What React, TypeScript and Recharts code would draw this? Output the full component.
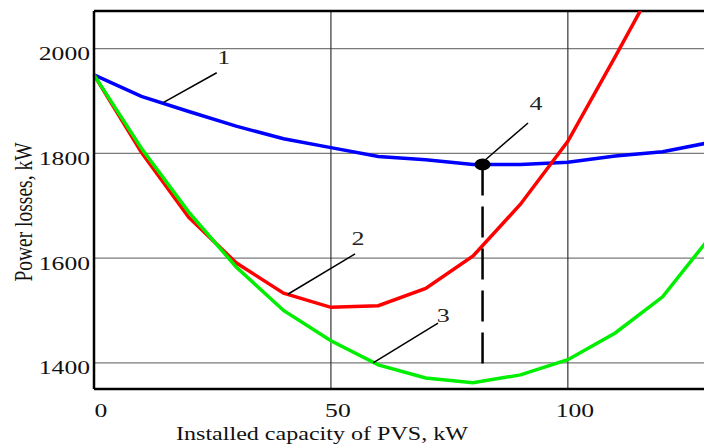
import { LineChart, Line, XAxis, YAxis, CartesianGrid, ReferenceLine, ReferenceDot } from 'recharts';

// installed capacity of PVS, kW
const capacity = [0, 10, 20, 30, 40, 50, 60, 70, 80, 90, 100, 110, 120, 130];
// curve 1
const lossesOne = [1950, 1909, 1880, 1852, 1828, 1811, 1794, 1788, 1779, 1779, 1783, 1795, 1803, 1821];
// curve 2
const lossesTwo = [1950, 1802, 1678, 1591, 1533, 1506, 1509, 1542, 1604, 1703, 1823, 1985, 2150, 2330];
// curve 3
const lossesThree = [1950, 1810, 1688, 1583, 1500, 1442, 1396, 1371, 1362, 1377, 1406, 1457, 1526, 1640];

const xTicks = [0, 50, 100];
const yTicks = [1400, 1600, 1800, 2000];
const xDomain = [0, 130];
const yDomain = [1350, 2072];

// point 4 (optimum) and the dashed drop line
const optimum = { x: 82, y: 1779 };
const dropEnd = 1383;

// curve number labels with their leader lines
const labels = [
  { text: '1', x: 27.4, y: 1971, from: { x: 25.9, y: 1954 }, to: { x: 14.6, y: 1897 } },
  { text: '2', x: 55.7, y: 1625, from: { x: 55.1, y: 1608 }, to: { x: 40.9, y: 1531 } },
  { text: '3', x: 73.7, y: 1478, from: { x: 72.6, y: 1476 }, to: { x: 58.9, y: 1400 } },
  { text: '4', x: 93.3, y: 1883, from: { x: 91.6, y: 1858 }, to: { x: 82.5, y: 1787 } },
];

const data = capacity.map((c, i) => ({
  c,
  one: lossesOne[i],
  two: lossesTwo[i],
  three: lossesThree[i],
}));

const font = '"Liberation Serif", "Times New Roman", serif';
const charW = 12.8;

const YTick = (props: any) => {
  const { x, y, payload } = props;
  const s = String(payload.value);
  return (
    <text x={x} y={y + 11.5} textAnchor="end" fontFamily={font} fontSize={19} fill="#111"
      textLength={s.length * charW} lengthAdjust="spacingAndGlyphs">
      {s}
    </text>
  );
};

const XTick = (props: any) => {
  const { x, y, payload } = props;
  const s = String(payload.value);
  return (
    <text x={x + 7} y={y + 24} textAnchor="middle" fontFamily={font} fontSize={19} fill="#111"
      textLength={s.length * charW} lengthAdjust="spacingAndGlyphs">
      {s}
    </text>
  );
};

const XTitle = (props: any) => {
  const { viewBox } = props;
  return (
    <text x={viewBox.x + 82} y={viewBox.y + 51} fontFamily={font} fontSize={19.5} fill="#111"
      textLength={292} lengthAdjust="spacingAndGlyphs">
      Installed capacity of PVS, kW
    </text>
  );
};

const YTitle = (props: any) => {
  const { viewBox } = props;
  const cy = viewBox.y + viewBox.height / 2 + 12;
  return (
    <text transform={`translate(31.5, ${cy}) scale(1.33, 1) rotate(-90)`} textAnchor="middle"
      fontFamily={font} fontSize={19.5} fill="#111">
      Power losses, kW
    </text>
  );
};

const NumberLabel = (text: string) => (props: any) => (
  <text x={props.cx} y={props.cy} textAnchor="middle" fontFamily={font} fontSize={19} fill="#222"
    textLength={13} lengthAdjust="spacingAndGlyphs">
    {text}
  </text>
);

const OptimumDot = (props: any) => <ellipse cx={props.cx} cy={props.cy} rx={8} ry={6} fill="#000" />;

export default function App() {
  return (
    <div style={{ position: 'fixed', left: 0, top: 0, width: 704, height: 445, overflow: 'hidden', background: '#fff' }}>
      <LineChart width={712} height={445} data={data} margin={{ top: 11, right: 2, left: 0, bottom: 0 }}>
        <CartesianGrid vertical={false} stroke="#7a7a7a" strokeWidth={1.2} />
        {xTicks.slice(1).map((t) => (
          <ReferenceLine key={'v' + t} x={t} stroke="#333" strokeWidth={1.2} />
        ))}
        <XAxis dataKey="c" type="number" domain={xDomain} ticks={xTicks} height={56}
          axisLine={{ stroke: '#000', strokeWidth: 2.5 }} tickLine={false} tickSize={4} tickMargin={0}
          tick={<XTick />} label={<XTitle />} />
        <YAxis type="number" domain={yDomain} ticks={yTicks} width={94} allowDataOverflow
          axisLine={{ stroke: '#000', strokeWidth: 2.5 }} tickLine={false} tickSize={4} tickMargin={0}
          tick={<YTick />} label={<YTitle />} />
        <ReferenceLine y={yDomain[1]} stroke="#000" strokeWidth={2.5} />
        <Line dataKey="one" stroke="#0000ff" strokeWidth={3.5} dot={false} isAnimationActive={false} />
        <Line dataKey="two" stroke="#ff0000" strokeWidth={3.5} dot={false} isAnimationActive={false} />
        <Line dataKey="three" stroke="#00ee00" strokeWidth={3.5} dot={false} isAnimationActive={false} />
        <ReferenceLine segment={[{ x: optimum.x, y: optimum.y }, { x: optimum.x, y: dropEnd }]}
          stroke="#000" strokeWidth={2.5} strokeDasharray="31 11" />
        {labels.map((l) => (
          <ReferenceLine key={'l' + l.text} segment={[l.from, l.to]} stroke="#000" strokeWidth={1.5} />
        ))}
        <ReferenceDot x={optimum.x} y={optimum.y} shape={OptimumDot} />
        {labels.map((l) => (
          <ReferenceDot key={'t' + l.text} x={l.x} y={l.y} shape={NumberLabel(l.text)} />
        ))}
      </LineChart>
    </div>
  );
}
